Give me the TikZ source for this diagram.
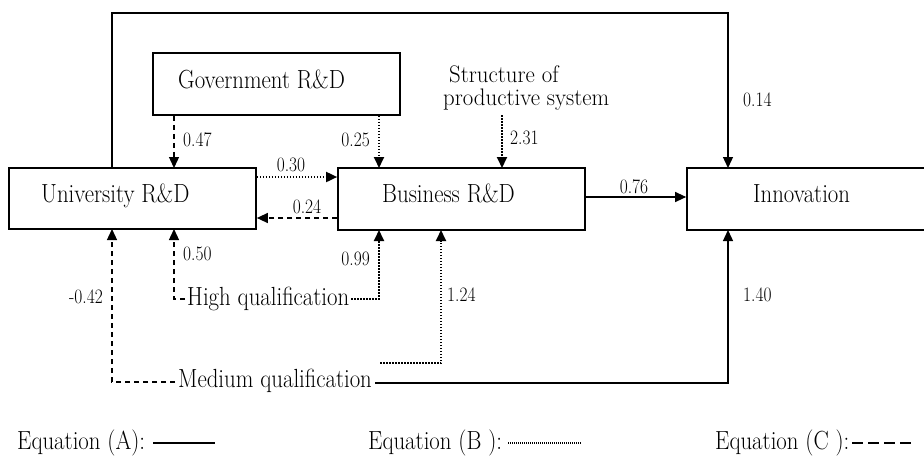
\documentclass[tikz,border=0pt]{standalone}
\usepackage{fontspec}
\usepackage{graphicx}
\usetikzlibrary{arrows.meta}
\newcommand\numlab[1]{\scalebox{0.85}[1]{#1}}
\newcommand\tallt[1]{\scalebox{1}[1.15]{#1}}
\tikzset{
  box/.style={draw=black, line width=1.7pt, rectangle, inner sep=0pt},
  txt/.style={font=\fontsize{22.8}{21}\selectfont\addfontfeature{FakeBold=0.3}, inner sep=0pt},
  num/.style={font=\fontsize{20.5}{22}\selectfont\addfontfeature{FakeBold=0.2}, inner sep=0pt},
  eqA/.style={draw=black, line width=1.3pt},
  eqB/.style={draw=black, line width=1.8pt, dash pattern=on 1.5pt off 1.5pt},
  eqC/.style={draw=black, line width=1.3pt, dash pattern=on 5pt off 4pt},
  arr/.style={-{Triangle[length=11pt,width=10pt]}},
}
\begin{document}
\begin{tikzpicture}[x=1pt,y=-1pt]
\clip (0,0) rectangle (924,456);

% boxes
\node[box, minimum width=247pt, minimum height=61pt] (univ) at (132.5,198.5) {};
\node[box, minimum width=247pt, minimum height=62pt] (bus) at (461.5,199) {};
\node[box, minimum width=247pt, minimum height=62pt] (gov) at (276.5,84) {};
\node[box, minimum width=253pt, minimum height=62pt] (inno) at (813.5,199) {};

% box texts
\node[txt, anchor=base west] (govt) at (178,88) {\tallt{Government R\&D}};
\node[txt, anchor=base west] (univt) at (41,202) {\tallt{University R\&D}};
\node[txt, anchor=base west] (bust) at (382,202) {\tallt{Business R\&D}};
\node[txt, anchor=base west] (innot) at (753,202) {\tallt{Innovation}};

% free texts
\node[txt, anchor=base west, align=left, font=\fontsize{22.8}{23}\selectfont\addfontfeature{FakeBold=0.3}] (struct) at (443,105)
  {\scalebox{1}[1.05]{\hspace{6pt}Structure of}\\\scalebox{1}[1.05]{productive system}};
\node[txt, anchor=base west, inner xsep=2pt] (high) at (185,305) {\tallt{High qualification}};
\node[txt, anchor=base west, inner xsep=3pt] (med) at (175,387) {\tallt{Medium qualification}};

% ports
\coordinate (uT1) at (112,168);
\coordinate (uT2) at (174,168);
\coordinate (uB1) at (112,229);
\coordinate (uB2) at (174,229);
\coordinate (bT1) at (379,168);
\coordinate (bT2) at (502,168);
\coordinate (bB1) at (379,230);
\coordinate (bB2) at (441,230);
\coordinate (iT) at (728,168);
\coordinate (iB) at (728,230);
\coordinate (sB) at (502,115);
\coordinate (mD) at (380,363);

% connectors
\draw[eqA, arr] (uT1) |- (iT |- 0,13) -- (iT);
\draw[eqC, arr] (gov.south -| uT2) -- (uT2);
\draw[eqB, arr] (gov.south -| bT1) -- (bT1);
\draw[eqB, arr] (sB) -- (bT2);
\draw[eqB, arr] (univ.east |- 0,177) -- (bus.west |- 0,177);
\draw[eqC, arr] (bus.west |- 0,218) -- (univ.east |- 0,218);
\draw[eqA, arr] (bus.east |- 0,197) -- (inno.west |- 0,197);
\draw[eqC, arr] (high.west |- 0,299) -| (uB2);
\draw[eqB, arr] (high.east |- 0,299) -| (bB1);
\draw[eqC, arr] (med.west |- 0,382) -| (uB1);
\draw[eqB, arr] (mD) -| (bB2);
\draw[eqA, arr] (med.east |- 0,383) -| (iB);

% coefficients
\node[num, anchor=west] (c014) at (743,100) {\numlab{0.14}};
\node[num, anchor=west] (c047) at (183,140) {\numlab{0.47}};
\node[num, anchor=east] (c025) at (370,140) {\numlab{0.25}};
\node[num, anchor=west] (c231) at (510,138) {\numlab{2.31}};
\node[num] (c030) at (291,165) {\numlab{0.30}};
\node[num] (c024) at (307,207) {\numlab{0.24}};
\node[num] (c076) at (634,187) {\numlab{0.76}};
\node[num, anchor=west] (c050) at (183,254) {\numlab{0.50}};
\node[num, anchor=east] (c099) at (370,259) {\numlab{0.99}};
\node[num, anchor=east] (c042) at (103,297) {\numlab{-0.42}};
\node[num, anchor=west] (c124) at (447,295) {\numlab{1.24}};
\node[num, anchor=west] (c140) at (743,295) {\numlab{1.40}};

% legend
\node[txt, anchor=base west] (legA) at (17,449) {\tallt{Equation (A):}};
\node[txt, anchor=base west] (legB) at (368,449) {\tallt{Equation (B ):}};
\node[txt, anchor=base west] (legC) at (715,449) {\tallt{Equation (C ):}};
\coordinate (lA1) at (153,443); \coordinate (lA2) at (215,443);
\coordinate (lB1) at (508,443); \coordinate (lB2) at (582,443);
\coordinate (lC1) at (852,443); \coordinate (lC2) at (913,443);
\draw[eqA, line width=1.1pt] (lA1) -- (lA2);
\draw[draw=black, line width=1.1pt, dash pattern=on 1pt off 1pt] (lB1) -- (lB2);
\draw[draw=black, line width=1.2pt, dash pattern=on 11pt off 5pt] (lC1) -- (lC2);
\end{tikzpicture}
\end{document}
